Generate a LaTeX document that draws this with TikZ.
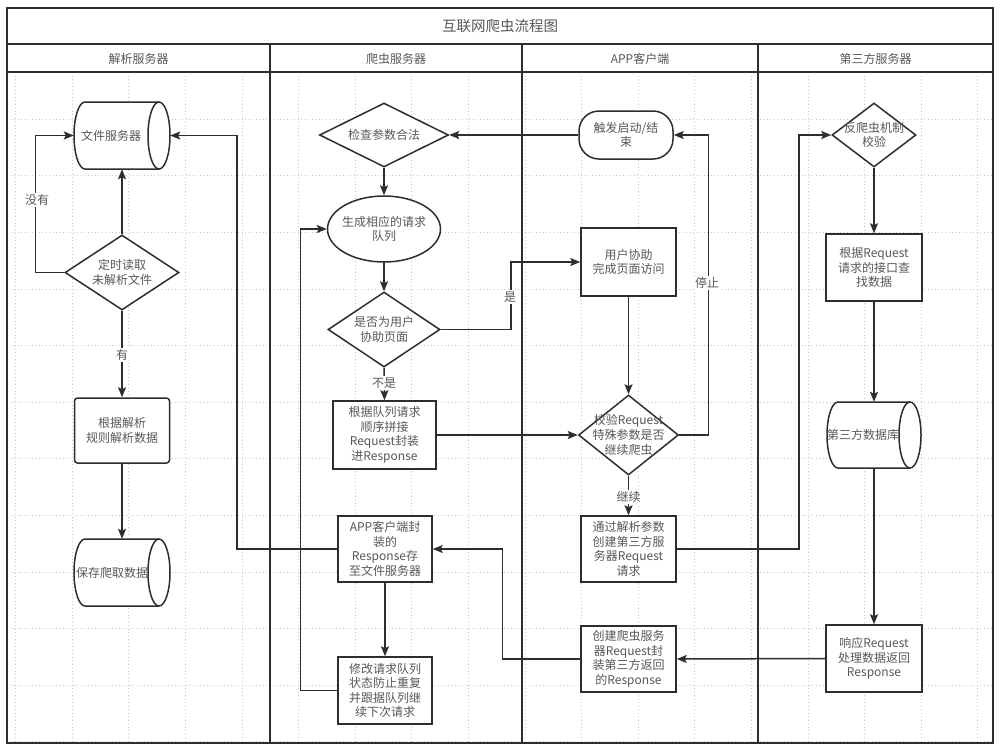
\documentclass[tikz,border=0pt]{standalone}
\usepackage{fontspec}
\setmainfont{Noto Sans CJK SC}
\usetikzlibrary{shapes.geometric,arrows.meta}
\definecolor{txt}{RGB}{88,88,88}
\definecolor{lc}{RGB}{45,45,45}
\definecolor{gridc}{RGB}{200,200,200}
\newcommand\fs{\fontsize{12pt}{14.6pt}\selectfont}
\begin{document}
\begin{tikzpicture}[x=1pt,y=1pt,
  shp/.style={draw=lc, line width=1.5pt, inner sep=0pt, fill=white},
  rbox/.style={shp, rectangle},
  rrbox/.style={shp, rectangle, rounded corners=3pt},
  stad/.style={shp, rectangle, rounded corners=20pt},
  dia/.style={shp, diamond},
  ell/.style={shp, ellipse},
  hold/.style={rectangle, inner sep=0pt},
  tx/.style={text=txt, font=\fs, align=center, inner sep=0pt},
  lab/.style={text=txt, font=\fs, fill=white, inner sep=1.5pt},
  conn/.style={draw=lc, line width=1.5pt, -{Stealth[length=10pt,width=8pt,inset=2pt]}},
  frame/.style={draw=lc, line width=1.8pt}
]
\useasboundingbox (0,0) rectangle (1000,-753);
\fill[white] (0,0) rectangle (1000,-753);
% grid
\begin{scope}[gridc, line width=0.6pt, dash pattern=on 1pt off 2.5pt]
\foreach \i in {0,...,17} {\draw (15.4+56.6*\i,-72) -- (15.4+56.6*\i,-743);}
\foreach \j in {0,...,11} {\draw (7,-119-56.6*\j) -- (993,-119-56.6*\j);}
\end{scope}
% frame and lanes
\draw[frame] (7,-8) rectangle (993,-743);
\draw[frame] (7,-44) -- (993,-44);
\draw[frame] (7,-72) -- (993,-72);
\draw[frame] (270,-44) -- (270,-743);
\draw[frame] (522,-44) -- (522,-743);
\draw[frame] (758,-44) -- (758,-743);
\node[tx, font=\fontsize{14.5pt}{17pt}\selectfont] (title) at (500,-26) {互联网爬虫流程图};
\node[tx] (h1) at (138.5,-58.5) {解析服务器};
\node[tx] (h2) at (396,-58.5) {爬虫服务器};
\node[tx] (h3) at (640,-58.5) {APP客户端};
\node[tx] (h4) at (875.5,-58.5) {第三方服务器};

% ---------- lane 1 ----------
\node[hold, minimum width=96pt, minimum height=67pt] (c1) at (122,-135.5) {};
\draw[shp] (159,-102) -- (85,-102) arc[start angle=90,end angle=270,x radius=11,y radius=33.5] -- (159,-169);
\draw[shp] (159,-135.5) ellipse [x radius=11, y radius=33.5];
\node[tx] (c1t) at (111,-135.5) {文件服务器};

\node[dia, minimum width=114pt, minimum height=75pt] (d1) at (122,-272.5) {};
\node[tx] (d1t) at (d1) {定时读取\\未解析文件};

\node[rrbox, minimum width=95pt, minimum height=65pt] (r1) at (122,-430.5) {};
\node[tx] (r1t) at (r1) {根据解析\\规则解析数据};

\node[hold, minimum width=96pt, minimum height=67pt] (c2) at (122,-572.5) {};
\draw[shp] (159,-539) -- (85,-539) arc[start angle=90,end angle=270,x radius=11,y radius=33.5] -- (159,-606);
\draw[shp] (159,-572.5) ellipse [x radius=11, y radius=33.5];
\node[tx] (c2t) at (112,-572.5) {保存爬取数据};

% ---------- lane 2 ----------
\node[dia, minimum width=129pt, minimum height=64pt] (d2) at (384,-135) {};
\node[tx] (d2t) at (d2) {检查参数合法};

\node[ell, minimum width=113pt, minimum height=66pt] (e1) at (384,-229) {};
\node[tx] (e1t) at (e1) {生成相应的请求\\队列};

\node[dia, minimum width=112pt, minimum height=75pt] (d3) at (384,-329.5) {};
\node[tx] (d3t) at (d3) {是否为用户\\协助页面};

\node[rbox, minimum width=103pt, minimum height=68pt] (r2) at (384.5,-435) {};
\node[tx] (r2t) at (r2) {根据队列请求\\顺序拼接\\Request封装\\进Response};

\node[rbox, minimum width=94pt, minimum height=66pt] (r4) at (385,-549) {};
\node[tx] (r4t) at (r4) {APP客户端封\\装的\\Response存\\至文件服务器};

\node[rbox, minimum width=94pt, minimum height=67pt] (r3) at (385,-690.5) {};
\node[tx] (r3t) at (r3) {修改请求队列\\状态防止重复\\并跟据队列继\\续下次请求};

% ---------- lane 3 ----------
\node[stad, minimum width=94pt, minimum height=48pt] (s1) at (626,-135) {};
\node[tx] (s1t) at (s1) {触发启动/结\\束};

\node[rbox, minimum width=95pt, minimum height=68pt] (r5) at (628.5,-262) {};
\node[tx] (r5t) at (r5) {用户协助\\完成页面访问};

\node[dia, minimum width=100pt, minimum height=80pt] (d4) at (628.5,-435) {};
\node[tx] (d4t) at (d4) {校验Request\\特殊参数是否\\继续爬虫};

\node[rbox, minimum width=95pt, minimum height=66pt] (r6) at (628.5,-549) {};
\node[tx] (r6t) at (r6) {通过解析参数\\创建第三方服\\务器Request\\请求};

\node[rbox, minimum width=95pt, minimum height=66pt] (r7) at (628.5,-659) {};
\node[tx] (r7t) at (r7) {创建爬虫服务\\器Request封\\装第三方返回\\的Response};

% ---------- lane 4 ----------
\node[dia, minimum width=84pt, minimum height=64pt] (d5) at (874,-135) {};
\node[tx] (d5t) at (d5) {反爬虫机制\\校验};

\node[rbox, minimum width=96pt, minimum height=67pt] (r9) at (874,-267.5) {};
\node[tx] (r9t) at (r9) {根据Request\\请求的接口查\\找数据};

\node[hold, minimum width=94pt, minimum height=66pt] (c3) at (874,-435) {};
\draw[shp] (910,-402) -- (838,-402) arc[start angle=90,end angle=270,x radius=11,y radius=33] -- (910,-468);
\draw[shp] (910,-435) ellipse [x radius=11, y radius=33];
\node[tx] (c3t) at (863,-435) {第三方数据库};

\node[rbox, minimum width=96pt, minimum height=67pt] (r8) at (874,-658.5) {};
\node[tx] (r8t) at (r8) {响应Request\\处理数据返回\\Response};

% ---------- connectors ----------
\draw[conn] (d1.north) -- (c1.south);
\draw[conn] (d1.west) -- ([xshift=-29pt]d1.west) |- (c1.west);
\node[lab] (l1) at (37,-200) {没有};
\draw[conn] (d1.south) -- (r1.north);
\node[lab] (l2) at (122,-355) {有};
\draw[conn] (r1.south) -- (c2.north);
\draw[conn] (r4.west) -| ([xshift=67pt]c1.east) -- (c1.east);

\draw[conn] (s1.west) -- (d2.east);
\draw[conn] (d2.south) -- (e1.north);
\draw[conn] (e1.south) -- (d3.north);
\draw[conn] (d3.east) -- ([xshift=70pt]d3.east) |- (r5.west);
\node[lab] (l3) at (510,-297) {是};
\draw[conn] (d3.south) -- (r2.north);
\node[lab] (l4) at (384,-383) {不是};
\draw[conn] (r2.east) -- (d4.west);
\draw[conn] (r4.south) -- (r3.north);
\draw[conn] (r3.west) -- ([xshift=-37pt]r3.west) |- (e1.west);
\draw[conn] (r7.west) -- ([xshift=-78pt]r7.west) |- (r4.east);

\draw[conn] (r5.south) -- (d4.north);
\draw[conn] (d4.east) -- ([xshift=29pt]d4.east) |- (s1.east);
\node[lab] (l5) at (707,-283) {停止};
\draw[conn] (d4.south) -- (r6.north);
\node[lab] (l6) at (628.5,-497) {继续};
\draw[conn] (r6.east) -- ([xshift=122pt]r6.east) |- (d5.west);
\draw[conn] (r8.west) -- (r7.east);

\draw[conn] (d5.south) -- (r9.north);
\draw[conn] (r9.south) -- (c3.north);
\draw[conn] (c3.south) -- (r8.north);
\end{tikzpicture}
\end{document}
